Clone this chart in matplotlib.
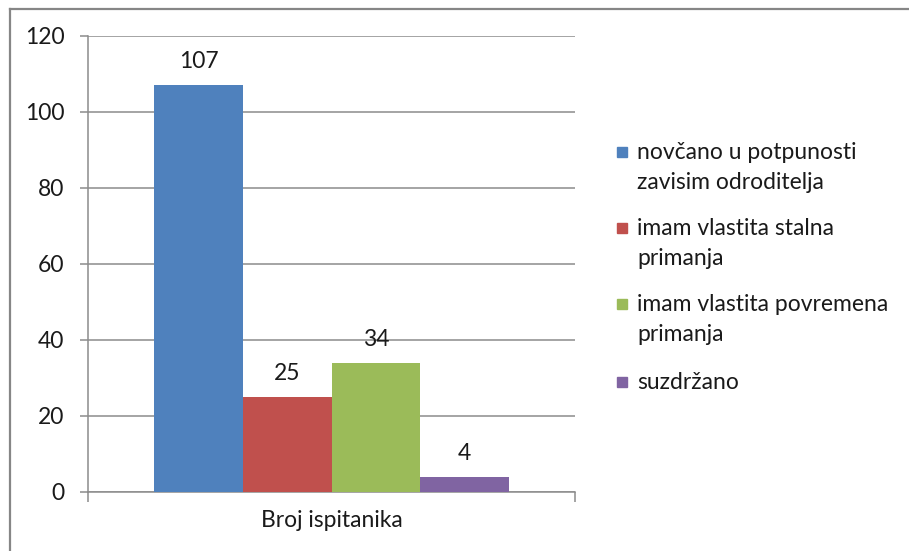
import matplotlib.pyplot as plt
from matplotlib.patches import Rectangle
from matplotlib.lines import Line2D

plt.rcParams['font.family'] = ['Lato', 'DejaVu Sans']

# data
category = "Broj ispitanika"
labels = ["novčano u potpunosti\nzavisim odroditelja",
          "imam vlastita stalna\nprimanja",
          "imam vlastita povremena\nprimanja",
          "suzdržano"]
values = [107, 25, 34, 4]
colors = ['#4F81BD', '#C0504D', '#9BBB59', '#8064A2']
yticks = [0, 20, 40, 60, 80, 100, 120]

grid_color = '#8c8c8c'
fs = 16.5

fig = plt.figure(figsize=(9.09, 5.51), dpi=100)
ax = fig.add_axes([88 / 909, 59 / 551, 487 / 909, 456 / 551])

bar_w = 0.182
start = 0.5 - bar_w * len(values) / 2
for i, (v, c) in enumerate(zip(values, colors)):
    x = start + bar_w * i + bar_w / 2
    ax.bar(x, v, width=bar_w, color=c, zorder=3)
    ax.annotate(str(v), (x, v), xytext=(0, 9.5), textcoords='offset points',
                ha='center', va='bottom', fontsize=fs, color='#1a1a1a')

ax.set_xlim(0, 1)
ax.set_ylim(0, 120)
ax.set_yticks(yticks)
ax.set_yticklabels([str(t) for t in yticks], fontsize=fs, color='#1a1a1a')
ax.yaxis.grid(True, color=grid_color, linewidth=1.1, zorder=0)
ax.set_axisbelow(True)

ax.set_xticks([0, 1])
ax.set_xticklabels(['', ''])
ax.set_xticks([0.5], minor=True)
ax.set_xticklabels([category], minor=True, fontsize=fs, color='#1a1a1a')
ax.tick_params(axis='x', which='major', length=7, width=1.1, color=grid_color)
ax.tick_params(axis='x', which='minor', length=0, pad=13)
ax.tick_params(axis='y', length=6, width=1.1, color=grid_color, pad=11)

for s in ['top', 'right']:
    ax.spines[s].set_visible(False)
for s in ['left', 'bottom']:
    ax.spines[s].set_color(grid_color)
    ax.spines[s].set_linewidth(1.1)

# outer chart border (left and top edges visible)
fig.add_artist(Line2D([9.5 / 909, 9.5 / 909], [0, 1 - 8.5 / 551],
                      transform=fig.transFigure, color='#868686', linewidth=1.6))
fig.add_artist(Line2D([9.5 / 909, 1], [1 - 8.5 / 551, 1 - 8.5 / 551],
                      transform=fig.transFigure, color='#868686', linewidth=1.6))

# legend
first_line_y = [152, 228, 304, 382]
for lab, c, yy in zip(labels, colors, first_line_y):
    fig.add_artist(Rectangle((617 / 909, 1 - (yy + 5) / 551), 10 / 909, 10 / 551,
                             transform=fig.transFigure, color=c))
    fig.text(637 / 909, 1 - (yy - 10) / 551, lab, fontsize=fs, va='top', ha='left',
             color='#1a1a1a', linespacing=1.55)

fig.savefig('out.png', dpi=100)
